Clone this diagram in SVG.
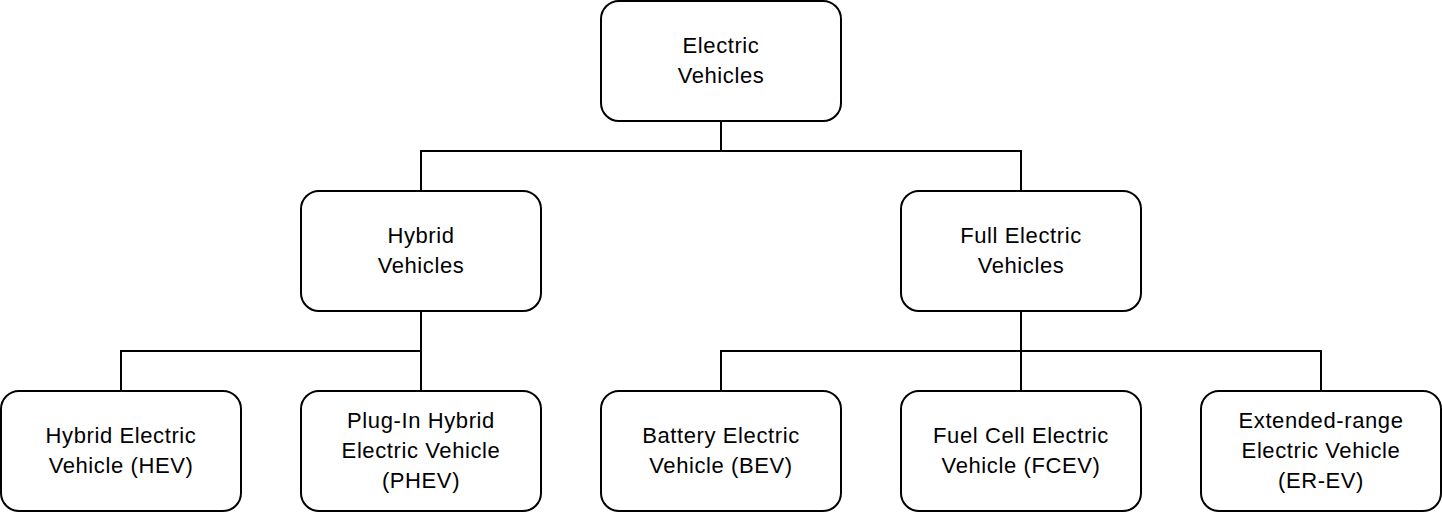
<svg xmlns="http://www.w3.org/2000/svg" width="1442" height="512" viewBox="0 0 1442 512">
<style>
.n rect{fill:#fff;stroke:#000;stroke-width:2}
.n text{font-family:"Liberation Sans",Arial,sans-serif;font-size:22px;letter-spacing:0.6px;fill:#000;text-anchor:middle}
.c path{fill:none;stroke:#000;stroke-width:2}
</style>
<rect width="1442" height="512" fill="#fff"/>
<g class="c" id="connectors">
<path d="M721 121V151H421V191"/>
<path d="M721 151H1021V191"/>
<path d="M421 311V351H121V391"/>
<path d="M421 351V391"/>
<path d="M1021 311V351H721V391"/>
<path d="M1021 351V391"/>
<path d="M1021 351H1321V391"/>
</g>
<g class="n" id="root"><rect x="601" y="1" width="240" height="120" rx="18"/><text x="721" y="52.5">Electric</text><text x="721" y="82.5">Vehicles</text></g>
<g class="n" id="hybrid"><rect x="301" y="191" width="240" height="120" rx="18"/><text x="421" y="242.5">Hybrid</text><text x="421" y="272.5">Vehicles</text></g>
<g class="n" id="full"><rect x="901" y="191" width="240" height="120" rx="18"/><text x="1021" y="242.5">Full Electric</text><text x="1021" y="272.5">Vehicles</text></g>
<g class="n" id="hev"><rect x="1" y="391" width="240" height="120" rx="18"/><text x="121" y="442.5">Hybrid Electric</text><text x="121" y="472.5">Vehicle (HEV)</text></g>
<g class="n" id="phev"><rect x="301" y="391" width="240" height="120" rx="18"/><text x="421" y="427.5">Plug-In Hybrid</text><text x="421" y="457.5">Electric Vehicle</text><text x="421" y="487.5">(PHEV)</text></g>
<g class="n" id="bev"><rect x="601" y="391" width="240" height="120" rx="18"/><text x="721" y="442.5">Battery Electric</text><text x="721" y="472.5">Vehicle (BEV)</text></g>
<g class="n" id="fcev"><rect x="901" y="391" width="240" height="120" rx="18"/><text x="1021" y="442.5">Fuel Cell Electric</text><text x="1021" y="472.5">Vehicle (FCEV)</text></g>
<g class="n" id="erev"><rect x="1201" y="391" width="240" height="120" rx="18"/><text x="1321" y="427.5">Extended-range</text><text x="1321" y="457.5">Electric Vehicle</text><text x="1321" y="487.5">(ER-EV)</text></g>
</svg>
